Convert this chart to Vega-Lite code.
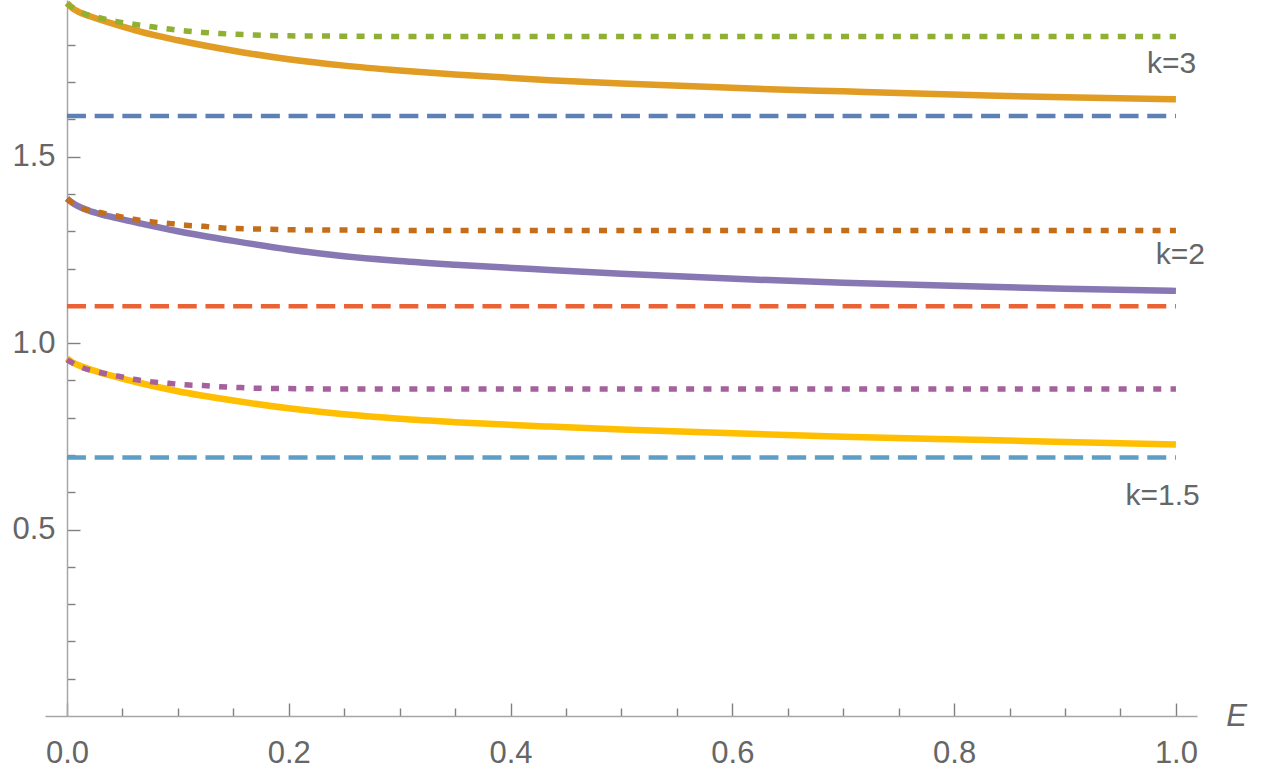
{
  "$schema": "https://vega.github.io/schema/vega-lite/v6.json",
  "width": 1152,
  "height": 716,
  "autosize": "none",
  "padding": {"left": 45, "top": 0, "right": 70, "bottom": 55},
  "background": "white",
  "config": {"view": {"stroke": null}, "font": "Liberation Sans"},
  "datasets": {
    "lines": [
      {"s": "k3 dashed", "st": "dashed", "x": 0, "y": 1.609},
      {"s": "k3 dashed", "st": "dashed", "x": 1, "y": 1.609},
      {"s": "k2 dashed", "st": "dashed", "x": 0, "y": 1.0986},
      {"s": "k2 dashed", "st": "dashed", "x": 1, "y": 1.0986},
      {"s": "k1.5 dashed", "st": "dashed", "x": 0, "y": 0.693},
      {"s": "k1.5 dashed", "st": "dashed", "x": 1, "y": 0.693},

      {"s": "k3 solid", "st": "solid", "x": 0, "y": 1.912},
      {"s": "k3 solid", "st": "solid", "x": 0.005, "y": 1.898},
      {"s": "k3 solid", "st": "solid", "x": 0.01, "y": 1.889},
      {"s": "k3 solid", "st": "solid", "x": 0.02, "y": 1.877},
      {"s": "k3 solid", "st": "solid", "x": 0.03, "y": 1.867},
      {"s": "k3 solid", "st": "solid", "x": 0.045, "y": 1.853},
      {"s": "k3 solid", "st": "solid", "x": 0.066, "y": 1.835},
      {"s": "k3 solid", "st": "solid", "x": 0.1, "y": 1.812},
      {"s": "k3 solid", "st": "solid", "x": 0.15, "y": 1.784},
      {"s": "k3 solid", "st": "solid", "x": 0.2, "y": 1.761},
      {"s": "k3 solid", "st": "solid", "x": 0.25, "y": 1.744},
      {"s": "k3 solid", "st": "solid", "x": 0.3, "y": 1.731},
      {"s": "k3 solid", "st": "solid", "x": 0.35, "y": 1.720},
      {"s": "k3 solid", "st": "solid", "x": 0.435, "y": 1.705},
      {"s": "k3 solid", "st": "solid", "x": 0.5, "y": 1.696},
      {"s": "k3 solid", "st": "solid", "x": 0.623, "y": 1.682},
      {"s": "k3 solid", "st": "solid", "x": 0.7, "y": 1.675},
      {"s": "k3 solid", "st": "solid", "x": 0.83, "y": 1.664},
      {"s": "k3 solid", "st": "solid", "x": 0.9, "y": 1.659},
      {"s": "k3 solid", "st": "solid", "x": 1.0, "y": 1.654},

      {"s": "k2 solid", "st": "solid", "x": 0, "y": 1.388},
      {"s": "k2 solid", "st": "solid", "x": 0.005, "y": 1.376},
      {"s": "k2 solid", "st": "solid", "x": 0.01, "y": 1.367},
      {"s": "k2 solid", "st": "solid", "x": 0.02, "y": 1.355},
      {"s": "k2 solid", "st": "solid", "x": 0.03, "y": 1.346},
      {"s": "k2 solid", "st": "solid", "x": 0.045, "y": 1.335},
      {"s": "k2 solid", "st": "solid", "x": 0.066, "y": 1.321},
      {"s": "k2 solid", "st": "solid", "x": 0.1, "y": 1.300},
      {"s": "k2 solid", "st": "solid", "x": 0.15, "y": 1.274},
      {"s": "k2 solid", "st": "solid", "x": 0.2, "y": 1.251},
      {"s": "k2 solid", "st": "solid", "x": 0.25, "y": 1.233},
      {"s": "k2 solid", "st": "solid", "x": 0.3, "y": 1.220},
      {"s": "k2 solid", "st": "solid", "x": 0.35, "y": 1.210},
      {"s": "k2 solid", "st": "solid", "x": 0.435, "y": 1.196},
      {"s": "k2 solid", "st": "solid", "x": 0.5, "y": 1.186},
      {"s": "k2 solid", "st": "solid", "x": 0.623, "y": 1.170},
      {"s": "k2 solid", "st": "solid", "x": 0.7, "y": 1.162},
      {"s": "k2 solid", "st": "solid", "x": 0.83, "y": 1.151},
      {"s": "k2 solid", "st": "solid", "x": 0.9, "y": 1.146},
      {"s": "k2 solid", "st": "solid", "x": 1.0, "y": 1.140},

      {"s": "k1.5 solid", "st": "solid", "x": 0, "y": 0.959},
      {"s": "k1.5 solid", "st": "solid", "x": 0.005, "y": 0.948},
      {"s": "k1.5 solid", "st": "solid", "x": 0.01, "y": 0.941},
      {"s": "k1.5 solid", "st": "solid", "x": 0.02, "y": 0.930},
      {"s": "k1.5 solid", "st": "solid", "x": 0.03, "y": 0.921},
      {"s": "k1.5 solid", "st": "solid", "x": 0.045, "y": 0.909},
      {"s": "k1.5 solid", "st": "solid", "x": 0.066, "y": 0.893},
      {"s": "k1.5 solid", "st": "solid", "x": 0.1, "y": 0.871},
      {"s": "k1.5 solid", "st": "solid", "x": 0.15, "y": 0.846},
      {"s": "k1.5 solid", "st": "solid", "x": 0.2, "y": 0.825},
      {"s": "k1.5 solid", "st": "solid", "x": 0.25, "y": 0.809},
      {"s": "k1.5 solid", "st": "solid", "x": 0.3, "y": 0.797},
      {"s": "k1.5 solid", "st": "solid", "x": 0.35, "y": 0.788},
      {"s": "k1.5 solid", "st": "solid", "x": 0.435, "y": 0.776},
      {"s": "k1.5 solid", "st": "solid", "x": 0.5, "y": 0.768},
      {"s": "k1.5 solid", "st": "solid", "x": 0.623, "y": 0.756},
      {"s": "k1.5 solid", "st": "solid", "x": 0.7, "y": 0.749},
      {"s": "k1.5 solid", "st": "solid", "x": 0.83, "y": 0.740},
      {"s": "k1.5 solid", "st": "solid", "x": 0.9, "y": 0.735},
      {"s": "k1.5 solid", "st": "solid", "x": 1.0, "y": 0.728},

      {"s": "k3 dotted", "st": "dotted", "x": 0, "y": 1.910},
      {"s": "k3 dotted", "st": "dotted", "x": 0.014, "y": 1.885},
      {"s": "k3 dotted", "st": "dotted", "x": 0.03, "y": 1.872},
      {"s": "k3 dotted", "st": "dotted", "x": 0.045, "y": 1.862},
      {"s": "k3 dotted", "st": "dotted", "x": 0.06, "y": 1.855},
      {"s": "k3 dotted", "st": "dotted", "x": 0.077, "y": 1.848},
      {"s": "k3 dotted", "st": "dotted", "x": 0.092, "y": 1.842},
      {"s": "k3 dotted", "st": "dotted", "x": 0.107, "y": 1.837},
      {"s": "k3 dotted", "st": "dotted", "x": 0.123, "y": 1.833},
      {"s": "k3 dotted", "st": "dotted", "x": 0.138, "y": 1.830},
      {"s": "k3 dotted", "st": "dotted", "x": 0.153, "y": 1.828},
      {"s": "k3 dotted", "st": "dotted", "x": 0.17, "y": 1.826},
      {"s": "k3 dotted", "st": "dotted", "x": 0.2, "y": 1.824},
      {"s": "k3 dotted", "st": "dotted", "x": 0.25, "y": 1.823},
      {"s": "k3 dotted", "st": "dotted", "x": 0.3, "y": 1.822},
      {"s": "k3 dotted", "st": "dotted", "x": 1.0, "y": 1.822},

      {"s": "k2 dotted", "st": "dotted", "x": 0, "y": 1.386},
      {"s": "k2 dotted", "st": "dotted", "x": 0.014, "y": 1.361},
      {"s": "k2 dotted", "st": "dotted", "x": 0.03, "y": 1.350},
      {"s": "k2 dotted", "st": "dotted", "x": 0.045, "y": 1.341},
      {"s": "k2 dotted", "st": "dotted", "x": 0.06, "y": 1.332},
      {"s": "k2 dotted", "st": "dotted", "x": 0.077, "y": 1.325},
      {"s": "k2 dotted", "st": "dotted", "x": 0.092, "y": 1.321},
      {"s": "k2 dotted", "st": "dotted", "x": 0.107, "y": 1.316},
      {"s": "k2 dotted", "st": "dotted", "x": 0.123, "y": 1.313},
      {"s": "k2 dotted", "st": "dotted", "x": 0.138, "y": 1.309},
      {"s": "k2 dotted", "st": "dotted", "x": 0.153, "y": 1.307},
      {"s": "k2 dotted", "st": "dotted", "x": 0.17, "y": 1.306},
      {"s": "k2 dotted", "st": "dotted", "x": 0.2, "y": 1.304},
      {"s": "k2 dotted", "st": "dotted", "x": 0.25, "y": 1.303},
      {"s": "k2 dotted", "st": "dotted", "x": 0.3, "y": 1.302},
      {"s": "k2 dotted", "st": "dotted", "x": 1.0, "y": 1.302},

      {"s": "k1.5 dotted", "st": "dotted", "x": 0, "y": 0.955},
      {"s": "k1.5 dotted", "st": "dotted", "x": 0.014, "y": 0.934},
      {"s": "k1.5 dotted", "st": "dotted", "x": 0.03, "y": 0.921},
      {"s": "k1.5 dotted", "st": "dotted", "x": 0.045, "y": 0.912},
      {"s": "k1.5 dotted", "st": "dotted", "x": 0.06, "y": 0.903},
      {"s": "k1.5 dotted", "st": "dotted", "x": 0.077, "y": 0.896},
      {"s": "k1.5 dotted", "st": "dotted", "x": 0.092, "y": 0.892},
      {"s": "k1.5 dotted", "st": "dotted", "x": 0.107, "y": 0.888},
      {"s": "k1.5 dotted", "st": "dotted", "x": 0.123, "y": 0.886},
      {"s": "k1.5 dotted", "st": "dotted", "x": 0.138, "y": 0.883},
      {"s": "k1.5 dotted", "st": "dotted", "x": 0.153, "y": 0.881},
      {"s": "k1.5 dotted", "st": "dotted", "x": 0.17, "y": 0.879},
      {"s": "k1.5 dotted", "st": "dotted", "x": 0.2, "y": 0.878},
      {"s": "k1.5 dotted", "st": "dotted", "x": 0.25, "y": 0.877},
      {"s": "k1.5 dotted", "st": "dotted", "x": 0.3, "y": 0.877},
      {"s": "k1.5 dotted", "st": "dotted", "x": 1.0, "y": 0.877}
    ],
    "labels": [
      {"t": "k=3", "x": 0.996, "y": 1.748},
      {"t": "k=2", "x": 1.004, "y": 1.237},
      {"t": "k=1.5", "x": 0.988, "y": 0.590}
    ]
  },
  "layer": [
    {
      "data": {"name": "lines"},
      "transform": [{"filter": "datum.st === 'dashed'"}],
      "mark": {"type": "line", "strokeWidth": 4.5, "strokeDash": [19, 8.7], "strokeCap": "butt"},
      "encoding": {
        "x": {
          "field": "x", "type": "quantitative",
          "scale": {"domain": [-0.0198, 1.019], "nice": false, "zero": false},
          "axis": {
            "title": "E",
            "titleFontStyle": "italic",
            "titleFontWeight": "normal",
            "titleFontSize": 31,
            "titleColor": "#666666",
            "titleX": 1191,
            "titleY": 0,
            "titleAlign": "center",
            "titleBaseline": "middle",
            "titleFont": "Liberation Sans",
            "tickCount": 100,
            "values": [0, 0.05, 0.1, 0.15, 0.2, 0.25, 0.3, 0.35, 0.4, 0.45, 0.5, 0.55, 0.6, 0.65, 0.7, 0.75, 0.8, 0.85, 0.9, 0.95, 1.0],
            "labelExpr": "abs(datum.value*5 - round(datum.value*5)) < 0.001 ? format(datum.value, '.1f') : ''",
            "labelFontSize": {"condition": {"test": "abs(datum.value*5 - round(datum.value*5)) < 0.001", "value": 31}, "value": 1},
            "labelColor": "#666666",
            "labelFont": "Liberation Sans",
            "labelPadding": 35,
            "labelFlush": false,
            "labelOverlap": false,
            "tickSize": {"condition": {"test": "abs(datum.value*5 - round(datum.value*5)) < 0.001", "value": -13}, "value": -8},
            "tickColor": "#808080",
            "tickWidth": 1.4,
            "domainColor": "#a6a6a6",
            "domainWidth": 1.5,
            "grid": false
          }
        },
        "y": {
          "field": "y", "type": "quantitative",
          "scale": {"domain": [0, 1.92], "nice": false, "zero": false},
          "axis": {
            "title": null,
            "offset": -22,
            "tickCount": 100,
            "values": [0.1, 0.2, 0.3, 0.4, 0.5, 0.6, 0.7, 0.8, 0.9, 1.0, 1.1, 1.2, 1.3, 1.4, 1.5, 1.6, 1.7, 1.8, 1.9],
            "labelExpr": "abs(datum.value*2 - round(datum.value*2)) < 0.001 ? format(datum.value, '.1f') : ''",
            "labelFontSize": {"condition": {"test": "abs(datum.value*2 - round(datum.value*2)) < 0.001", "value": 31}, "value": 1},
            "labelColor": "#666666",
            "labelFont": "Liberation Sans",
            "labelPadding": 25,
            "labelFlush": false,
            "labelOverlap": false,
            "tickSize": {"condition": {"test": "abs(datum.value*2 - round(datum.value*2)) < 0.001", "value": -13}, "value": -8},
            "tickColor": "#808080",
            "tickWidth": 1.4,
            "domainColor": "#a6a6a6",
            "domainWidth": 1.5,
            "grid": false
          }
        },
        "detail": {"field": "s"},
        "color": {
          "field": "s", "type": "nominal", "legend": null,
          "scale": {
            "domain": ["k3 dashed", "k3 solid", "k3 dotted", "k2 dashed", "k2 solid", "k2 dotted", "k1.5 dashed", "k1.5 solid", "k1.5 dotted"],
            "range": ["#5E81B5", "#E19C24", "#8FB032", "#EB6235", "#8778B3", "#C56E1A", "#5D9EC7", "#FFBF00", "#A5609D"]
          }
        }
      }
    },
    {
      "data": {"name": "lines"},
      "transform": [{"filter": "datum.st === 'solid'"}],
      "mark": {"type": "line", "strokeWidth": 6.5, "interpolate": "monotone", "strokeCap": "butt"},
      "encoding": {
        "x": {"field": "x", "type": "quantitative"},
        "y": {"field": "y", "type": "quantitative"},
        "detail": {"field": "s"},
        "color": {"field": "s", "type": "nominal", "legend": null}
      }
    },
    {
      "data": {"name": "lines"},
      "transform": [{"filter": "datum.st === 'dotted'"}],
      "mark": {"type": "line", "strokeWidth": 5.5, "strokeDash": [8, 9.3], "interpolate": "monotone", "strokeCap": "butt"},
      "encoding": {
        "x": {"field": "x", "type": "quantitative"},
        "y": {"field": "y", "type": "quantitative"},
        "detail": {"field": "s"},
        "color": {"field": "s", "type": "nominal", "legend": null}
      }
    },
    {
      "data": {"name": "labels"},
      "mark": {"type": "text", "fontSize": 30, "color": "#666666", "align": "center", "baseline": "middle", "font": "Liberation Sans"},
      "encoding": {
        "x": {"field": "x", "type": "quantitative"},
        "y": {"field": "y", "type": "quantitative"},
        "text": {"field": "t"}
      }
    }
  ]
}
